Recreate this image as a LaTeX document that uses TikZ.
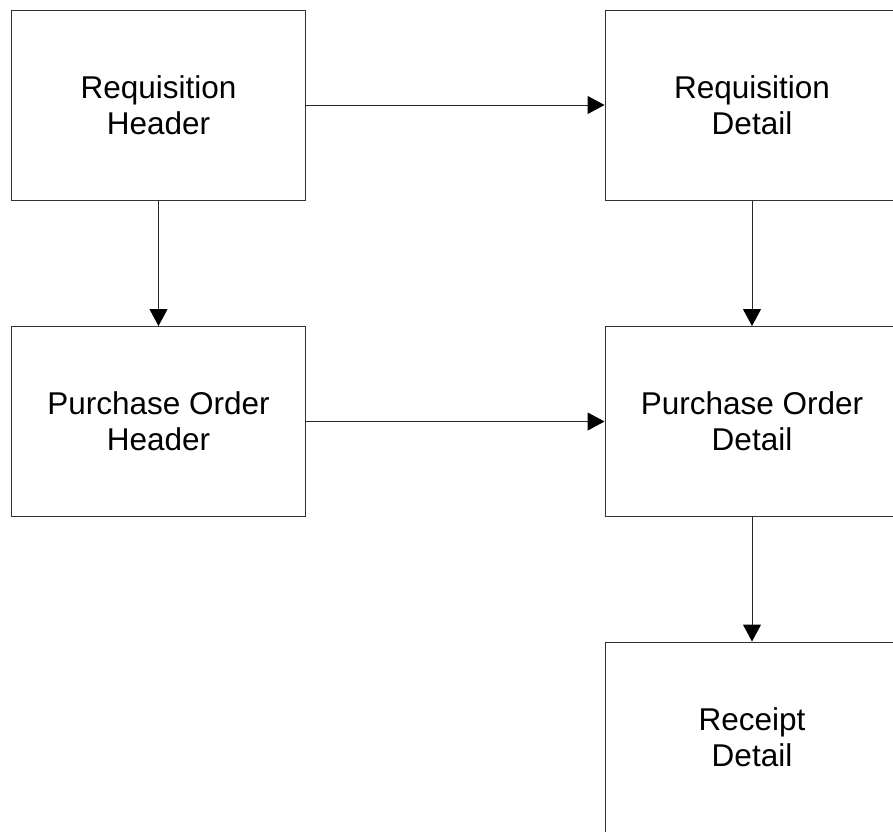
\documentclass[tikz,border=0pt]{standalone}
\usepackage{fontspec}
\setmainfont{Liberation Sans}
\usetikzlibrary{arrows.meta}
\begin{document}
\begin{tikzpicture}[x=1pt,y=-1pt,
  box/.style={draw=black!80,line width=1pt,minimum width=294pt,minimum height=190pt,
    inner sep=0pt,align=center,font=\fontsize{31.5}{36}\selectfont},
  conn/.style={draw=black!85,line width=1pt,-{Triangle[length=17pt,width=18pt,fill=black,color=black]}}]
\useasboundingbox (0,0) rectangle (893,831);
\clip (0,0) rectangle (893,831);
\node[box] (rh) at (158.5,105) {Requisition\\Header};
\node[box] (rd) at (752,105) {Requisition\\Detail};
\node[box] (ph) at (158.5,421.5) {Purchase Order\\Header};
\node[box] (pd) at (752,421.5) {Purchase Order\\Detail};
\node[box] (rc) at (752,737) {Receipt\\Detail};
\draw[conn] (rh) -- (rd);
\draw[conn] (rh) -- (ph);
\draw[conn] (rd) -- (pd);
\draw[conn] (ph) -- (pd);
\draw[conn] (pd) -- (rc);
\end{tikzpicture}
\end{document}
